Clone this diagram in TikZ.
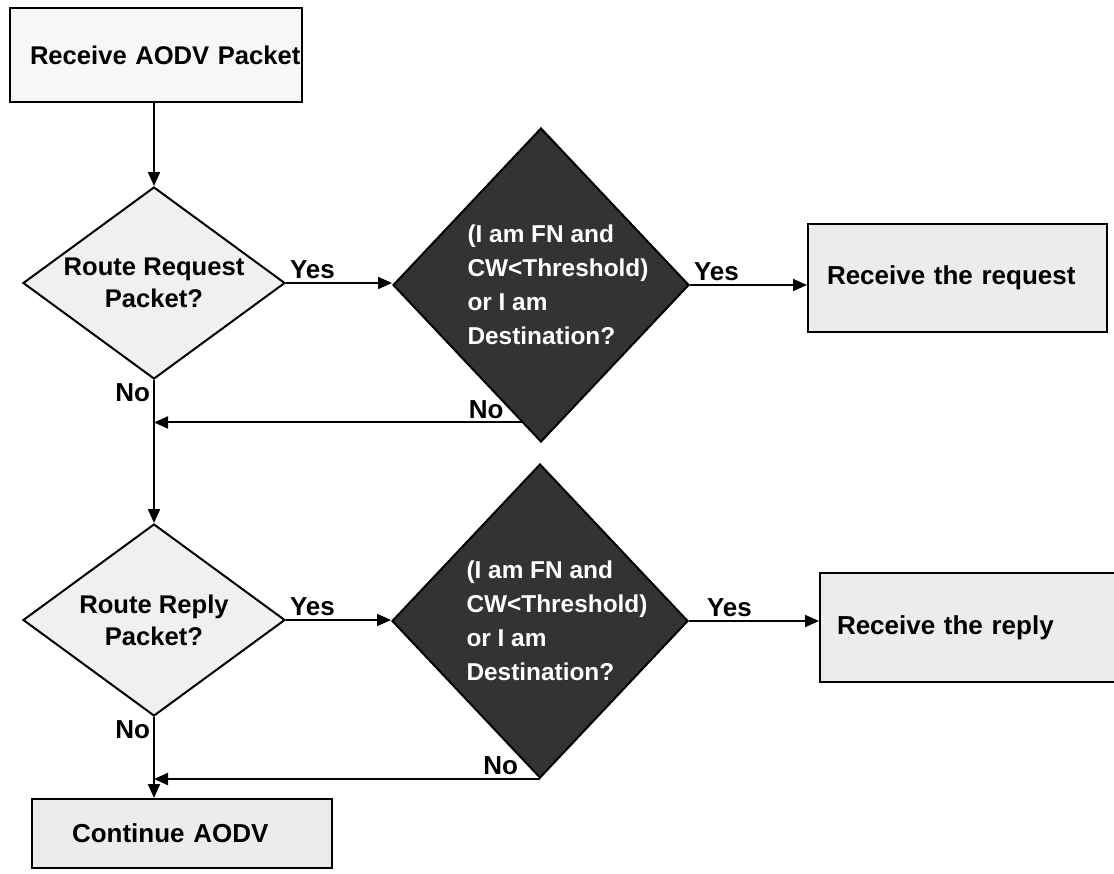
\documentclass[tikz,border=0pt]{standalone}
\usepackage{fontspec}
\setmainfont{Liberation Sans}
\usetikzlibrary{shapes.geometric,arrows.meta,calc}
\definecolor{boxbg}{HTML}{ECECEC}
\definecolor{startbg}{HTML}{F7F7F7}
\definecolor{decbg}{HTML}{F0F0F0}
\definecolor{testbg}{HTML}{333333}
\tikzset{
  box/.style={draw=black, line width=1pt, fill=boxbg, inner ysep=0pt, align=left,
    font=\fontsize{13}{16}\selectfont\bfseries},
  dec/.style={diamond, draw=black, line width=1pt, fill=decbg, inner sep=0pt, aspect=1.36,
    minimum width=131pt, minimum height=96pt, align=center, font=\fontsize{12.8}{16}\selectfont\bfseries},
  % text set in a bit to the right: the indent is taken back by inner xsep
  test/.style={diamond, draw=black, line width=1pt, fill=testbg, text=white, inner ysep=0pt, inner xsep=-8.5pt,
    aspect=0.94, minimum width=148pt, minimum height=157pt, align=left,
    font=\fontsize{12.2}{17}\selectfont\bfseries},
  flow/.style={draw=black, line width=1pt, -{Triangle[length=7pt,width=6pt]}},
  lab/.style={font=\fontsize{13}{16}\selectfont\bfseries, inner sep=1.5pt}
}
\begin{document}
\begin{tikzpicture}[x=0.5pt,y=-0.5pt]
  \useasboundingbox (0,0) rectangle (1114,873);
  % boxes
  \node[box, fill=startbg, text width=126pt, inner xsep=10pt, minimum height=47pt,
    font=\fontsize{12.8}{16}\selectfont\bfseries]
    (recv) at (156,55) {\mbox{Receive AODV Packet}};
  \node[box, text width=130.5pt, inner xsep=9.5pt, minimum height=54pt]
    (req) at (957.5,278) {Receive the request};
  \node[box, text width=132pt, inner xsep=8.5pt, minimum height=54.5pt]
    (rep) at (969,627.5) {Receive the reply};
  \node[box, text width=110pt, inner xsep=20pt, minimum height=34.5pt]
    (cont) at (182,833.5) {Continue AODV};
  % decisions
  \node[dec] (d1) at (154,283) {Route Request\\Packet?};
  \node[dec] (d2) at (154,620) {Route Reply\\Packet?};
  \node[test] (q1) at (541,285)
    {\hspace*{17pt}(I am FN and\\\hspace*{17pt}CW<Threshold)\\\hspace*{17pt}or I am\\\hspace*{17pt}Destination?};
  \node[test] (q2) at (540,621)
    {\hspace*{17pt}(I am FN and\\\hspace*{17pt}CW<Threshold)\\\hspace*{17pt}or I am\\\hspace*{17pt}Destination?};
  % connectors
  \draw[flow] (d1.north |- recv.south) -- (d1.north);
  \draw[flow] (d1.east) -- node[lab, above right, pos=0] {Yes} (d1.east -| q1.west);
  \draw[flow] (q1.east) -- node[lab, above right, pos=0] {Yes} (q1.east -| req.west);
  \coordinate (n1) at ($(q1.south)!0.13!(q1.west)$);
  \coordinate (j1) at (d1.south |- n1);
  \draw[flow] (n1) -- node[lab, above left, pos=0, xshift=-7pt] {No} (j1);
  \draw[flow] (d1.south) -- node[lab, below left, pos=0] {No} (d2.north);
  \draw[flow] (d2.east) -- node[lab, above right, pos=0] {Yes} (d2.east -| q2.west);
  \draw[flow] (q2.east) -- node[lab, above right, pos=0, xshift=7pt] {Yes} (q2.east -| rep.west);
  \coordinate (j2) at (d2.south |- q2.south);
  \draw[flow] (q2.south) -- node[lab, above left, pos=0, xshift=-9pt] {No} (j2);
  \draw[flow] (d2.south) -- node[lab, below left, pos=0] {No} (d2.south |- cont.north);
\end{tikzpicture}
\end{document}
